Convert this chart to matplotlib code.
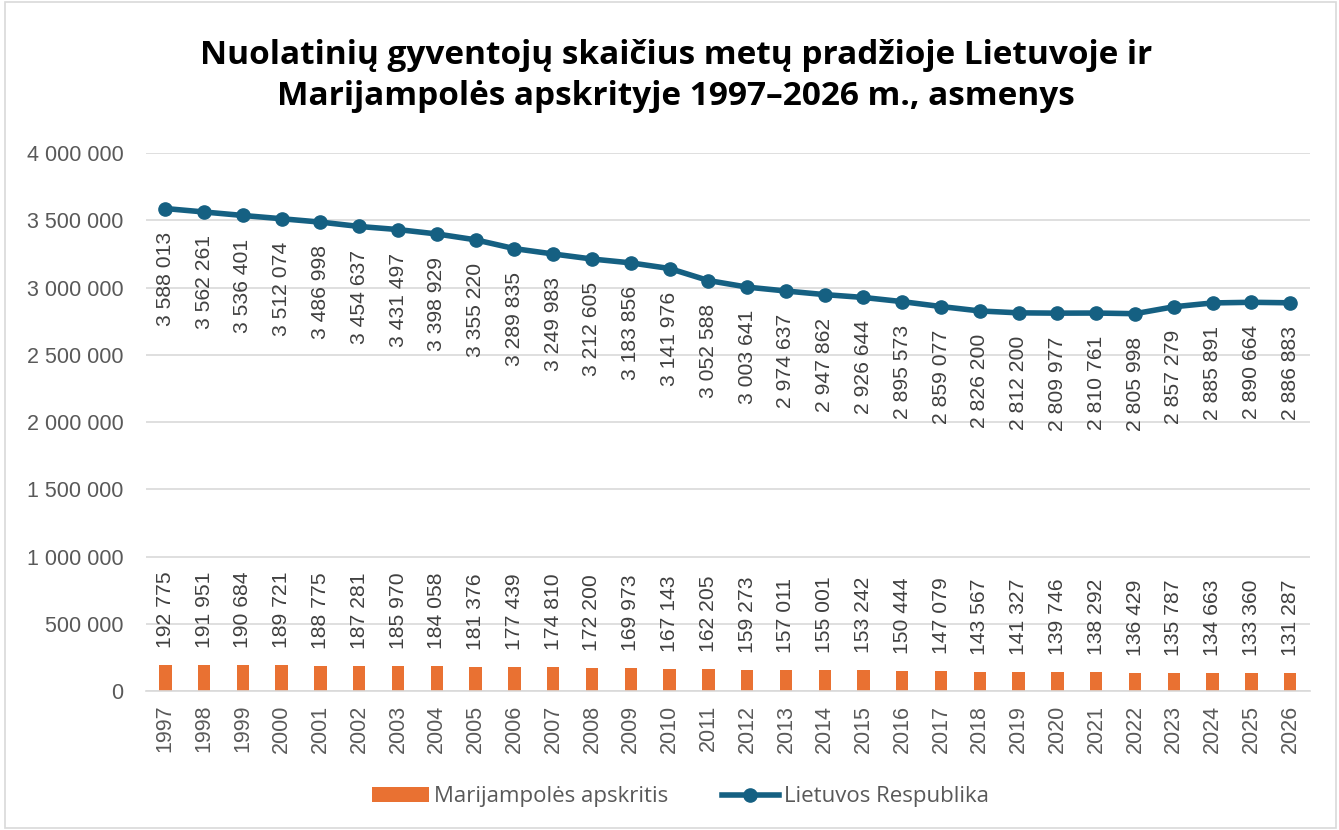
import numpy as np
import matplotlib
matplotlib.use("Agg")
import matplotlib.pyplot as plt
from matplotlib.patches import Rectangle

years = list(range(1997, 2027))
lietuva = [3588013, 3562261, 3536401, 3512074, 3486998, 3454637, 3431497, 3398929,
           3355220, 3289835, 3249983, 3212605, 3183856, 3141976, 3052588, 3003641,
           2974637, 2947862, 2926644, 2895573, 2859077, 2826200, 2812200, 2809977,
           2810761, 2805998, 2857279, 2885891, 2890664, 2886883]
marijampole = [192775, 191951, 190684, 189721, 188775, 187281, 185970, 184058,
               181376, 177439, 174810, 172200, 169973, 167143, 162205, 159273,
               157011, 155001, 153242, 150444, 147079, 143567, 141327, 139746,
               138292, 136429, 135787, 134663, 133360, 131287]
y_ticks = [0, 500000, 1000000, 1500000, 2000000, 2500000, 3000000, 3500000, 4000000]

ORANGE = "#E97132"
BLUE = "#156082"
GREY = "#595959"
LABEL_FONT = ["Liberation Sans", "DejaVu Sans"]
TEXT_FONT = ["Open Sans", "DejaVu Sans"]


def fmt(v):
    return f"{v:,}".replace(",", " ")


fig = plt.figure(figsize=(13.39, 8.30), dpi=100)
ax = fig.add_axes([0.109, 0.1675, 0.869, 0.648])

x = np.arange(len(years))
bars = ax.bar(x, marijampole, width=0.32, color=ORANGE, zorder=2,
              label="Marijampolės apskritis")
line, = ax.plot(x, lietuva, color=BLUE, lw=4, marker="o", ms=9.5, zorder=3,
                label="Lietuvos Respublika")

# duomenų žymės
for xi, v in zip(x, marijampole):
    ax.annotate(fmt(v), (xi, v), xytext=(0, 17), textcoords="offset pixels",
                rotation=90, ha="center", va="bottom", fontsize=15.2,
                color="#404040", family=LABEL_FONT)
for xi, v in zip(x, lietuva):
    ax.annotate(fmt(v), (xi, v), xytext=(0, -23), textcoords="offset pixels",
                rotation=90, ha="center", va="top", fontsize=15.2,
                color="#404040", family=LABEL_FONT)

ax.set_xlim(-0.5, len(years) - 0.5)
ax.set_ylim(0, 4000000)
ax.set_yticks(y_ticks)
ax.set_yticklabels([fmt(t) for t in y_ticks], family=LABEL_FONT, fontsize=15.5, color=GREY)
ax.set_xticks(x)
ax.set_xticklabels([str(y) for y in years], rotation=90, family=LABEL_FONT,
                   fontsize=15.5, color=GREY)
ax.tick_params(axis="y", length=0, pad=16)
ax.tick_params(axis="x", length=0, pad=10)
ax.grid(axis="y", color="#D9D9D9", lw=1.2, zorder=0)
for s in ["top", "right", "left"]:
    ax.spines[s].set_visible(False)
ax.spines["bottom"].set_color("#D9D9D9")
ax.spines["bottom"].set_linewidth(1.2)

fig.text(0.505, 0.909, "Nuolatinių gyventojų skaičius metų pradžioje Lietuvoje ir\n"
         "Marijampolės apskrityje 1997–2026 m., asmenys",
         ha="center", va="center", fontsize=24, fontweight="bold",
         family=TEXT_FONT, linespacing=1.32)

fig.legend([bars, line], ["Marijampolės apskritis", "Lietuvos Respublika"],
           loc="center", bbox_to_anchor=(0.508, 0.04), ncol=2, frameon=False,
           prop={"family": TEXT_FONT, "size": 16}, labelcolor=GREY,
           handlelength=2.6, handletextpad=0.2, columnspacing=2.4)

fig.add_artist(Rectangle((0.004, 0.003), 0.994, 0.994, transform=fig.transFigure,
                         fill=False, edgecolor="#D9D9D9", lw=1.2))

fig.savefig("out.png", dpi=100)
